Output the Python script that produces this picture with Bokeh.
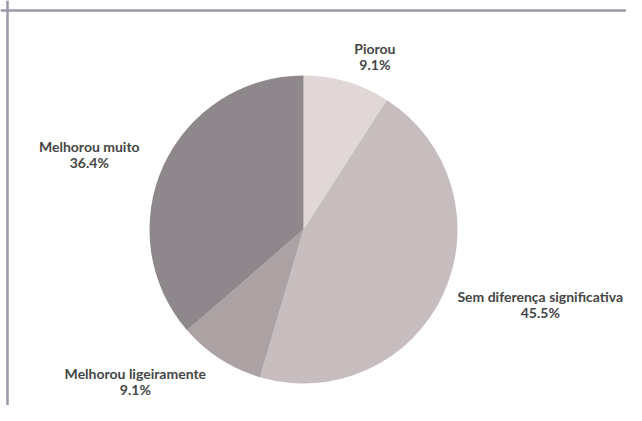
import math
from bokeh.plotting import figure
from bokeh.models import ColumnDataSource, Span, Range1d
from bokeh.core.properties import value
from bokeh.embed import file_html
from bokeh.resources import INLINE

categories = ["Piorou", "Sem diferença significativa", "Melhorou ligeiramente", "Melhorou muito"]
values = [9.1, 45.5, 9.1, 36.4]
colors = ["#e0d7d6", "#c7bdbe", "#aca2a4", "#8e878c"]

W, H = 626, 405
CX, CY, R = 303, H - 229, 154
LABEL_K = 1.17
FONT = "Lato"
label_dx = [0, -10, 0, 0]  # pixel nudges so labels stay inside the canvas

total = sum(values)
starts, ends, mids = [], [], []
cum = 0.0
for v in values:
    a0 = cum / total
    cum += v
    a1 = cum / total
    starts.append(math.pi / 2 - a0 * 2 * math.pi)
    ends.append(math.pi / 2 - a1 * 2 * math.pi)
    mids.append((a0 + a1) / 2 * 2 * math.pi)  # clockwise from top

lx = [CX + LABEL_K * R * math.sin(m) for m in mids]
ly = [CY + LABEL_K * R * math.cos(m) for m in mids]
anchors = ["center_left" if math.sin(m) > 0.05 else ("center_right" if math.sin(m) < -0.05 else "center") for m in mids]
labels = [f"{c}\n{v:.1f}%" for c, v in zip(categories, values)]

src = ColumnDataSource(dict(cat=categories, val=values, color=colors,
                            start=starts, end=ends))
lsrc = ColumnDataSource(dict(x=lx, y=ly, text=labels, anchor=anchors, dx=label_dx))

p = figure(width=W, height=H, output_backend="svg", toolbar_location=None,
           x_range=Range1d(0, W), y_range=Range1d(0, H), min_border=0)
p.axis.visible = False
p.grid.visible = False
p.outline_line_color = None
p.background_fill_color = "white"
p.border_fill_color = "white"

p.wedge(x=CX, y=CY, radius=R, start_angle="start", end_angle="end",
        direction="clock", fill_color="color", line_color=None, source=src)

p.text(x="x", y="y", text="text", anchor="anchor", text_align="center",
       x_offset="dx",
       text_baseline="middle", text_font=value(FONT), text_font_style="bold",
       text_font_size="14px", text_color="#454545", text_line_height=0.95,
       source=lsrc)

frame_color = "#9a98aa"
p.add_layout(Span(location=H - 10, dimension="width", line_color=frame_color, line_width=2.5))
p.add_layout(Span(location=7, dimension="height", line_color=frame_color, line_width=2.5))

open("out.html", "w").write(file_html(p, INLINE))
